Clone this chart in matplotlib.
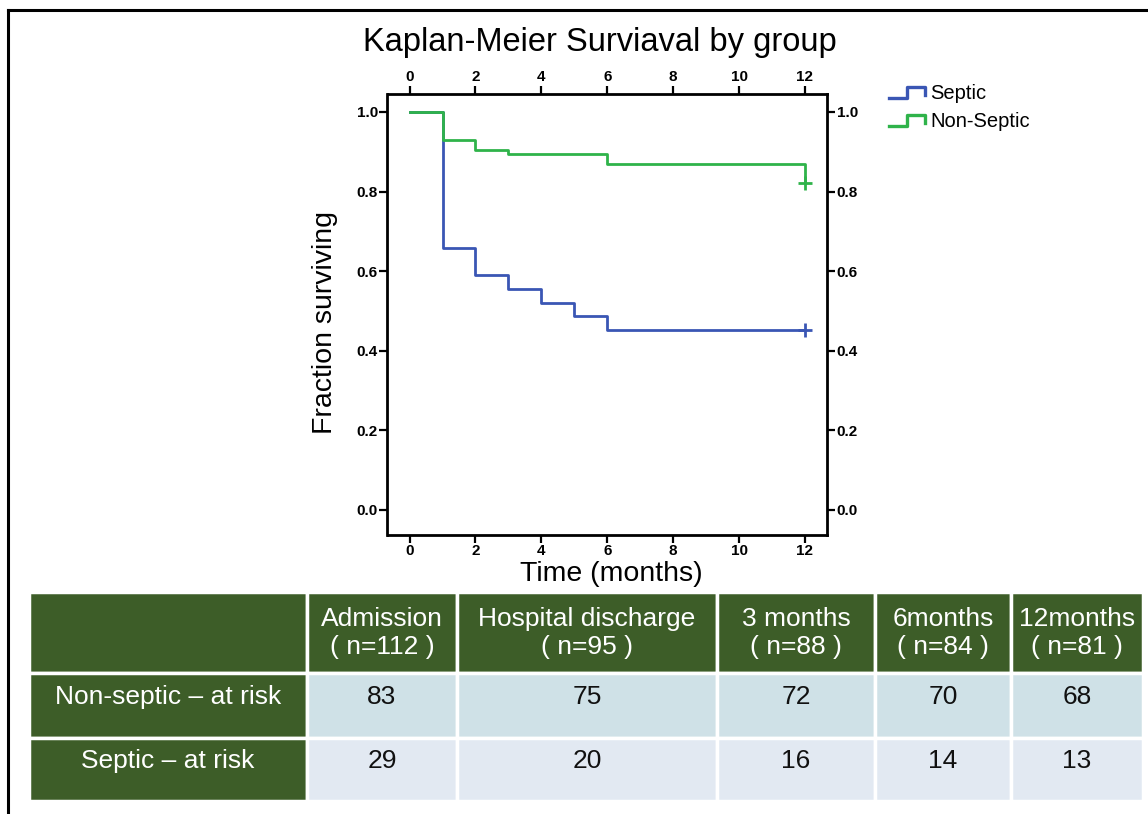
import matplotlib
matplotlib.use("Agg")
import matplotlib.pyplot as plt
from matplotlib.legend_handler import HandlerBase
from matplotlib.lines import Line2D
from matplotlib.transforms import Affine2D

# survival curves
septic_t = [0, 1, 2, 3, 4, 5, 6, 12]
septic_s = [1.0, 0.657, 0.589, 0.555, 0.521, 0.486, 0.452, 0.452]
nonseptic_t = [0, 1, 2, 3, 6, 12]
nonseptic_s = [1.0, 0.929, 0.905, 0.893, 0.869, 0.821]
censor_t = 12

# at-risk table
col_labels = ["", "Admission\n( n=112 )", "Hospital discharge\n( n=95 )",
              "3 months\n( n=88 )", "6months\n( n=84 )", "12months\n( n=81 )"]
row_labels = ["Non-septic \u2013 at risk", "Septic \u2013 at risk"]
at_risk_nonseptic = [83, 75, 72, 70, 68]
at_risk_septic = [29, 20, 16, 14, 13]

BLUE = "#3a56b4"
GREEN = "#2fb34a"
DKGREEN = "#3d5d28"
ROW1 = "#cfe1e7"
ROW2 = "#e2e9f2"

plt.rcParams["font.family"] = ["Liberation Sans", "DejaVu Sans"]

W, H = 1148, 814
fig = plt.figure(figsize=(W / 100, H / 100), dpi=100)

# outer frame (top and left edges only)
fig.add_artist(Line2D([8 / W, 1], [1 - 9.5 / H, 1 - 9.5 / H], color="black", lw=2.2))
fig.add_artist(Line2D([8 / W, 8 / W], [0, 1 - 9.5 / H], color="black", lw=2.2))

ax = fig.add_axes([387.5 / W, 1 - 534.6 / H, (827 - 387.5) / W, (534.6 - 94) / H])
ax.step(septic_t, septic_s, where="post", color=BLUE, lw=2)
ax.step(nonseptic_t, nonseptic_s, where="post", color=GREEN, lw=2)
ax.plot([censor_t], [septic_s[-1]], marker="+", ms=10, mew=2, color=BLUE)
ax.plot([censor_t], [nonseptic_s[-1]], marker="+", ms=10, mew=2, color=GREEN)

ax.set_xlim(-0.67, 12.67)
ax.set_ylim(-0.062, 1.045)
ax.set_xticks(range(0, 13, 2))
ax.set_yticks([0.0, 0.2, 0.4, 0.6, 0.8, 1.0])
ax.set_yticklabels([f"{v:.1f}" for v in [0.0, 0.2, 0.4, 0.6, 0.8, 1.0]])
ax.tick_params(axis="both", which="both", direction="out", length=6, width=1.6,
               top=True, right=True, labeltop=True, labelright=True,
               labelsize=11, pad=1)
for lab in ax.get_xticklabels() + ax.get_yticklabels():
    lab.set_fontweight("bold")
for sp in ax.spines.values():
    sp.set_linewidth(2)

fig.text(325 / W, 1 - 322 / H, "Fraction surviving", rotation=90, fontsize=20.5,
         ha="center", va="center")
fig.text(611 / W, 1 - 574 / H, "Time (months)", fontsize=20.5, ha="center", va="center")
fig.text(600 / W, 1 - 43 / H, "Kaplan-Meier Surviaval by group", fontsize=23.5,
         ha="center", va="center")


class StepHandler(HandlerBase):
    def create_artists(self, legend, orig_handle, xd, yd, width, height, fontsize, trans):
        x0, y0 = -xd, -yd
        xs = [x0, x0 + width * 0.5, x0 + width * 0.5, x0 + width, x0 + width]
        ys = [y0 + height * 0.05, y0 + height * 0.05, y0 + height * 0.85,
              y0 + height * 0.85, y0 + height * 0.3]
        ln = Line2D(xs, ys, color=orig_handle.get_color(), lw=2.4, transform=trans)
        return [ln]


h1 = Line2D([], [], color=BLUE)
h2 = Line2D([], [], color=GREEN)
fig.legend([h1, h2], ["Septic", "Non-Septic"], loc="upper left",
           bbox_to_anchor=(871 / W, 1 - 66 / H), frameon=False, fontsize=14.5,
           handler_map={Line2D: StepHandler()}, handlelength=1.8,
           handletextpad=0.25, labelspacing=0.45)

# at-risk table
tax = fig.add_axes([29 / W, 1 - 801 / H, (1143 - 29) / W, (801 - 592) / H])
tax.axis("off")
cells = [[row_labels[0]] + [str(v) for v in at_risk_nonseptic],
         [row_labels[1]] + [str(v) for v in at_risk_septic]]
tab = tax.table(cellText=cells, colLabels=col_labels, cellLoc="center",
                bbox=[0, 0, 1, 1])
tab.auto_set_font_size(False)
col_w = [278, 150, 260, 158, 136, 132]
row_h = [81, 64, 63]
for (r, c), cell in tab.get_celld().items():
    cell.set_width(col_w[c])
    cell.set_height(row_h[r])
    cell.set_edgecolor("white")
    cell.set_linewidth(2.5)
    txt = cell.get_text()
    txt.set_fontsize(19)
    if r == 0 or c == 0:
        cell.set_facecolor(DKGREEN)
        txt.set_color("white")
    else:
        cell.set_facecolor(ROW1 if r == 1 else ROW2)
        txt.set_color("#111111")
    if r > 0:
        txt.set_va("bottom")
        txt.set_transform(Affine2D().translate(0, -3.5))

fig.savefig("out.png", dpi=100)
